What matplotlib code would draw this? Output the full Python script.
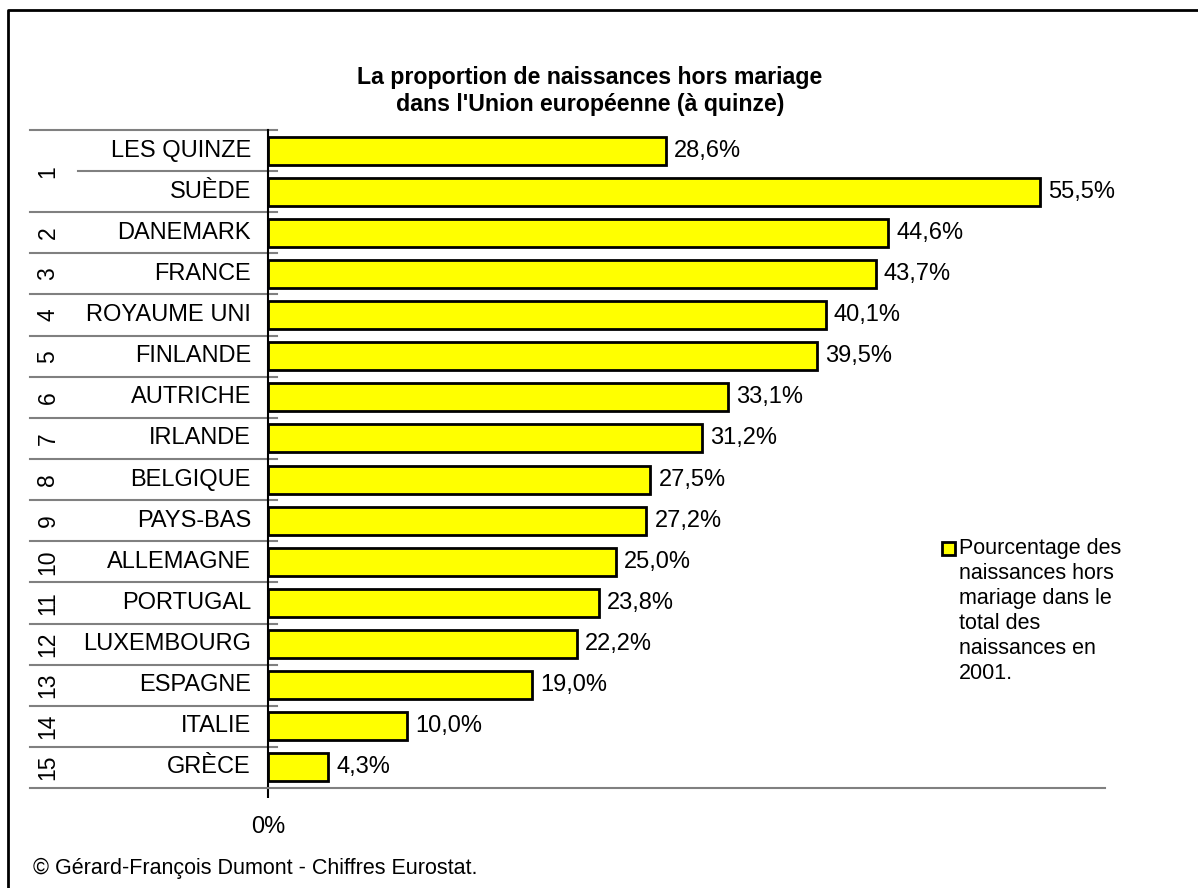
import matplotlib.pyplot as plt
from matplotlib.patches import Rectangle
from matplotlib.lines import Line2D
import matplotlib.transforms as mtransforms

plt.rcParams['font.family'] = ['Liberation Sans', 'DejaVu Sans']

# data
pays = ['LES QUINZE', 'SUÈDE', 'DANEMARK', 'FRANCE', 'ROYAUME UNI', 'FINLANDE',
        'AUTRICHE', 'IRLANDE', 'BELGIQUE', 'PAYS-BAS', 'ALLEMAGNE', 'PORTUGAL',
        'LUXEMBOURG', 'ESPAGNE', 'ITALIE', 'GRÈCE']
valeurs = [28.6, 55.5, 44.6, 43.7, 40.1, 39.5, 33.1, 31.2, 27.5, 27.2, 25.0,
           23.8, 22.2, 19.0, 10.0, 4.3]
# rank groups: (label, first row, last row)
rangs = [('1', 0, 1)] + [(str(k), k, k) for k in range(2, 16)]

W, H = 1198, 888
def fx(px):
    return px / W
def fy(py):
    return 1 - py / H

fig = plt.figure(figsize=(W / 100, H / 100), dpi=100)
ax = fig.add_axes([fx(268), fy(788), fx(1105) - fx(268), fy(130) - fy(788)])

y = list(range(len(pays)))
bars = ax.barh(y, valeurs, height=0.68, color='#FFFF00', edgecolor='black',
               linewidth=2, label='Pourcentage des\nnaissances hors\nmariage dans le\ntotal des\nnaissances en\n2001.')
ax.bar_label(bars, labels=[f'{v:.1f}%'.replace('.', ',') for v in valeurs],
             padding=6, fontsize=17)

ax.set_xlim(0, 60.2)
ax.set_ylim(len(pays) - 0.5, -0.5)
ax.set_yticks([])
ax.set_xticks([0])
ax.set_xticklabels(['0%'], fontsize=17)
ax.tick_params(axis='x', length=7, width=1.5, pad=13, color='black')
for s in ['top', 'right']:
    ax.spines[s].set_visible(False)
ax.spines['left'].set_color('black')
ax.spines['left'].set_linewidth(1.5)
ax.spines['bottom'].set_color('#808080')
ax.spines['bottom'].set_linewidth(1.5)

# multi-level category axis drawn by hand
trans = mtransforms.blended_transform_factory(ax.transAxes, ax.transData)
ax_w = 1105 - 268
def ax_x(px):
    return (px - 268) / ax_w

for i, name in enumerate(pays):
    ax.text(ax_x(251), i, name, transform=trans, ha='right', va='center',
            fontsize=17, clip_on=False)

for lab, r0, r1 in rangs:
    ax.text(ax_x(48), (r0 + r1) / 2, lab, transform=trans, ha='center',
            va='center', rotation=90, fontsize=16.5, clip_on=False)
    ax.add_line(Line2D([ax_x(30), ax_x(277)], [r0 - 0.5, r0 - 0.5], transform=trans,
                       color='#808080', lw=1.5, clip_on=False))
    for r in range(r0 + 1, r1 + 1):
        ax.add_line(Line2D([ax_x(78), ax_x(277)], [r - 0.5, r - 0.5], transform=trans,
                           color='#808080', lw=1.5, clip_on=False))
ax.add_line(Line2D([ax_x(30), 0], [len(pays) - 0.5] * 2, transform=trans,
                   color='#808080', lw=1.5, clip_on=False))

# title
fig.text(fx(590), fy(91), "La proportion de naissances hors mariage\ndans l'Union européenne (à quinze)",
         ha='center', va='center', fontsize=16.7, fontweight='bold', linespacing=1.2)

# legend drawn by hand
fig.patches.append(Rectangle((fx(942), fy(555)), fx(955) - fx(942), fy(542) - fy(555),
                             transform=fig.transFigure, facecolor='#FFFF00',
                             edgecolor='black', lw=2))
fig.text(fx(959), fy(538), bars.get_label(), ha='left', va='top', fontsize=15.5,
         linespacing=1.25)

# footer
fig.text(fx(33), fy(868), '© Gérard-François Dumont - Chiffres Eurostat.',
         ha='left', va='center', fontsize=15.5)

# outer frame
fig.lines.append(Line2D([fx(8), fx(8), 1], [0, fy(10), fy(10)], transform=fig.transFigure,
                        color='black', lw=2))

fig.savefig('out.png', dpi=100)
